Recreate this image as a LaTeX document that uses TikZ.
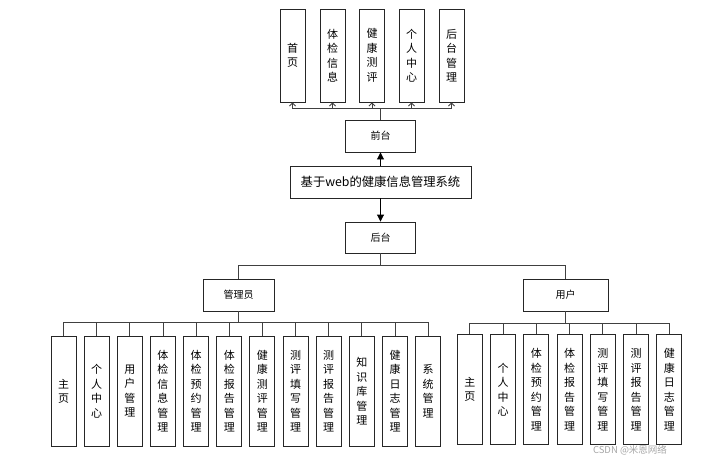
\documentclass[tikz,border=0pt]{standalone}
\usepackage{fontspec}
\setmainfont{Noto Sans CJK SC}
\usetikzlibrary{arrows.meta}
\begin{document}
\begin{tikzpicture}[x=1pt,y=-1pt,
  bx/.style={draw=black!85, line width=0.9pt, fill=white, inner sep=0pt, align=center},
  hbox/.style={bx, minimum height=32pt, font=\fontsize{10}{12}\selectfont},
  vbox/.style={bx, minimum width=25pt, font=\fontsize{11}{14.5}\selectfont},
  conn/.style={draw=black!75, line width=0.9pt},
  opentip/.style={conn, -{Straight Barb[length=3pt,width=6pt]}},
  filltip/.style={draw=black, line width=0.9pt, -{Triangle[length=7pt,width=7pt]}},
  wm/.style={text=black!35, inner sep=0pt, font=\fontsize{9.5}{10}\selectfont}
]
\useasboundingbox (0,0) rectangle (710,456);

% top level boxes
\foreach \n/\x/\t in {t1/292.5/首\\页, t2/332.5/体\\检\\信\\息, t3/372/健\\康\\测\\评, t4/411.5/个\\人\\中\\心, t5/451.5/后\\台\\管\\理}
  \node[vbox, minimum height=93pt] (\n) at (\x,55.5) {\t};

\node[hbox, minimum width=70pt] (front) at (380.5,136) {前台};
\node[bx, minimum width=181pt, minimum height=32pt, font=\fontsize{12.3}{14}\selectfont] (main) at (380.5,182) {基于web的健康信息管理系统};
\node[hbox, minimum width=70pt, minimum height=31pt] (back) at (380.5,237.5) {后台};

\node[hbox, minimum width=71pt] (admin) at (238.5,295) {管理员};
\node[hbox, minimum width=85pt] (user) at (565.5,295) {用户};

% admin leaf boxes
\foreach \i/\t in {0/主\\页, 1/个\\人\\中\\心, 2/用\\户\\管\\理, 3/体\\检\\信\\息\\管\\理, 4/体\\检\\预\\约\\管\\理, 5/体\\检\\报\\告\\管\\理, 6/健\\康\\测\\评\\管\\理, 7/测\\评\\填\\写\\管\\理, 8/测\\评\\报\\告\\管\\理, 9/知\\识\\库\\管\\理, 10/健\\康\\日\\志\\管\\理, 11/系\\统\\管\\理}
  \node[vbox, minimum height=109.5pt] (a\i) at ({63.5+33.15*\i},391.25) {\t};

% user leaf boxes
\foreach \i/\t in {0/主\\页, 1/个\\人\\中\\心, 2/体\\检\\预\\约\\管\\理, 3/体\\检\\报\\告\\管\\理, 4/测\\评\\填\\写\\管\\理, 5/测\\评\\报\\告\\管\\理, 6/健\\康\\日\\志\\管\\理}
  \node[vbox, minimum height=110pt] (u\i) at ({469.8+33.25*\i},389.5) {\t};

% connectors: front to top boxes
\coordinate (tbus) at (380.5,108);
\draw[conn] (front.north) -- (tbus);
\foreach \n in {t1,t2,t3,t4,t5}
  \draw[opentip] (tbus) -| (\n.south);

% main arrows
\draw[filltip] (main.north) -- (front.south);
\draw[filltip] (main.south) -- (back.north);

% back to admin / user
\coordinate (bbus) at (380.5,265);
\draw[conn] (back.south) -- (bbus);
\draw[conn] (bbus) -| (admin.north);
\draw[conn] (bbus) -| (user.north);

% admin to leaves
\coordinate (abus) at (238.5,322.5);
\draw[conn] (admin.south) -- (abus);
\foreach \i in {0,...,11}
  \draw[conn] (abus) -| (a\i.north);

% user to leaves
\coordinate (ubus) at (565.5,323);
\draw[conn] (user.south) -- (ubus);
\foreach \i in {0,...,6}
  \draw[conn] (ubus) -| (u\i.north);

% watermark
\node[wm] (wmark) at (630,450.5) {CSDN @米恩网络};
\end{tikzpicture}
\end{document}
